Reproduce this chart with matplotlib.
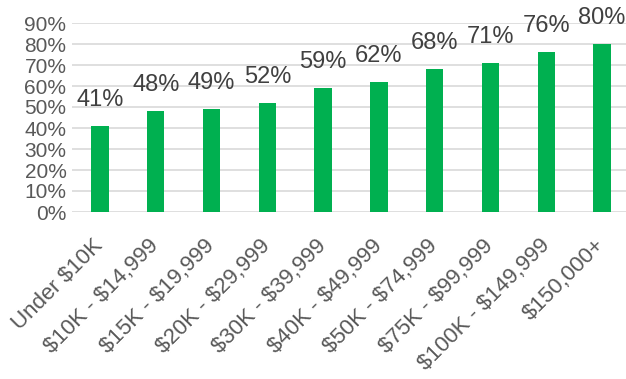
import matplotlib.pyplot as plt
import numpy as np

# Data
categories = ["Under $10K", "$10K - $14,999", "$15K - $19,999", "$20K - $29,999",
              "$30K - $39,999", "$40K - $49,999", "$50K - $74,999", "$75K - $99,999",
              "$100K - $149,999", "$150,000+"]
values = [0.41, 0.48, 0.49, 0.52, 0.59, 0.62, 0.68, 0.71, 0.76, 0.80]
y_ticks = [0.0, 0.1, 0.2, 0.3, 0.4, 0.5, 0.6, 0.7, 0.8, 0.9]

plt.rcParams['font.family'] = ['Liberation Sans', 'DejaVu Sans']

W, H = 626, 379
fig = plt.figure(figsize=(W / 100, H / 100), dpi=100)
# plot area in pixels: left 72, 0% at y=212, 90% at y=23
left, right, top, bottom = 72, 630, 23, 212
ax = fig.add_axes([left / W, 1 - bottom / H, (right - left) / W, (bottom - top) / H])

x = np.arange(len(categories))
bars = ax.bar(x, values, width=0.31, color="#00B050", zorder=3)

ax.set_xlim(-0.5, len(categories) - 0.5)
ax.set_ylim(0, 0.9)
ax.set_yticks(y_ticks)
ax.set_yticklabels([f"{int(round(t * 100))}%" for t in y_ticks])
ax.grid(axis="y", color="#D9D9D9", linewidth=1.2, zorder=0)
ax.set_axisbelow(True)
for s in ax.spines.values():
    s.set_visible(False)

ax.tick_params(axis="y", length=0, pad=4, labelsize=15, labelcolor="#595959")
ax.tick_params(axis="x", length=0, pad=22, labelsize=16, labelcolor="#595959")
ax.set_xticks(x)
# escape dollar signs so they are not read as mathtext
ax.set_xticklabels([c.replace("$", r"\$") for c in categories],
                   rotation=45, ha="right", va="center", rotation_mode="anchor")

# data labels
for xi, v in zip(x, values):
    ax.annotate(f"{int(round(v * 100))}%", (xi, v), xytext=(0, 11), textcoords="offset points",
                ha="center", va="bottom", fontsize=17, color="#404040")

plt.savefig("out.png", dpi=100)
plt.close()
